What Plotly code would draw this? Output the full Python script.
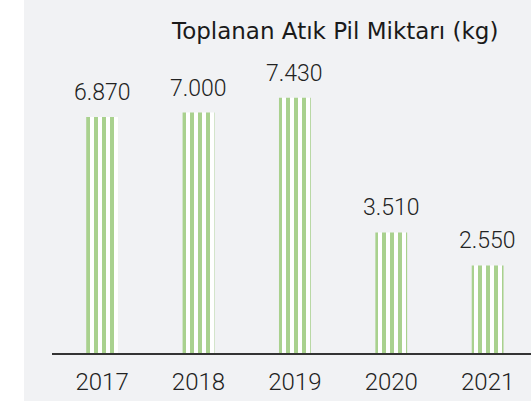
import plotly.graph_objects as go

years = ["2017", "2018", "2019", "2020", "2021"]
values = [6870, 7000, 7430, 3510, 2550]
labels = ["6.870", "7.000", "7.430", "3.510", "2.550"]
title_text = "Toplanan Atık Pil Miktarı (kg)"

GREEN = "#a9d18e"
BG = "#f1f2f4"
NUMFONT = "Roboto, sans-serif"
TITLEFONT = "'DejaVu Sans', sans-serif"

fig = go.Figure()
fig.add_trace(go.Bar(
    x=years, y=values, width=0.33,
    marker=dict(
        color="white",
        line=dict(width=0),
        pattern=dict(shape="|", fgcolor=GREEN, bgcolor="white",
                     size=8, solidity=0.5, fillmode="replace"),
    ),
    hoverinfo="skip",
))

for i, (y, t) in enumerate(zip(values, labels)):
    fig.add_annotation(x=i, y=y, text=t, showarrow=False, yanchor="bottom",
                       yshift=9, font=dict(family=NUMFONT, size=23, color="#222222", weight=300))

fig.add_annotation(xref="paper", yref="paper", x=0.59, y=1.0, xanchor="center",
                   yanchor="middle", yshift=-31, text=title_text, showarrow=False,
                   font=dict(family=TITLEFONT, size=23, color="#1a1a1a"))

fig.add_shape(type="rect", xref="paper", yref="paper", x0=-0.2, x1=-28/479,
              y0=-0.3, y1=1.1, fillcolor="white", line=dict(width=0), layer="below")

fig.update_layout(
    width=531, height=401,
    margin=dict(l=52, r=0, t=0, b=48),
    paper_bgcolor=BG, plot_bgcolor=BG,
    showlegend=False,
    xaxis=dict(type="category", range=[-0.52, 4.45], showgrid=False,
               showline=True, linecolor="#333333", linewidth=1.5,
               ticks="", ticklabelstandoff=6,
               tickfont=dict(family=NUMFONT, size=24, color="#222222", weight=300),
               fixedrange=True),
    yaxis=dict(range=[0, 10277], visible=False, fixedrange=True),
)

fig.write_html("out.html", config={"displayModeBar": False},
               post_script="document.body.style.margin='0';document.body.style.padding='0';")
